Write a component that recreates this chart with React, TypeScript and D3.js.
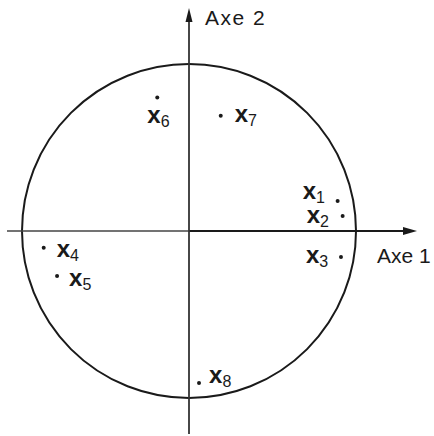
import React from "react";
import * as d3 from "d3";

// Variables projected on the correlation circle (first factorial plane)
const names = ["1", "2", "3", "4", "5", "6", "7", "8"];
const axe1 = [0.89, 0.92, 0.91, -0.87, -0.79, -0.19, 0.19, 0.06];
const axe2 = [0.18, 0.09, -0.156, -0.1, -0.27, 0.8, 0.69, -0.91];
const axisTitles = ["Axe 1", "Axe 2"];

// label placement relative to each point (text start, baseline)
const labelOffsets: [number, number][] = [
  [-35, -2],
  [-36, 7],
  [-35, 6],
  [13, 9],
  [12, 10],
  [-10, 26],
  [14, 6],
  [10, 0],
];

const W = 434;
const H = 436;
const cx = 189;
const cy = 231;
const R = 167;

export default function App() {
  const x = d3.scaleLinear().domain([-1, 1]).range([cx - R, cx + R]);
  const y = d3.scaleLinear().domain([-1, 1]).range([cy + R, cy - R]);

  const font = "'Liberation Sans', Arial, Helvetica, sans-serif";
  const ink = "#1a1a1a";

  const circlePath = d3.path();
  circlePath.arc(x(0), y(0), x(1) - x(0), 0, Math.PI * 2);

  const hLeft = x(-1.09);
  const hTip = 417;
  const vTop = 8;
  const vBottom = 434;

  return (
    <svg
      width={W}
      height={H}
      viewBox={`0 0 ${W} ${H}`}
      style={{ position: "absolute", left: 0, top: 0, background: "#fff" }}
    >
      <rect width={W} height={H} fill="#fff" />
      {/* correlation circle */}
      <path d={circlePath.toString()} fill="none" stroke={ink} strokeWidth={2} />

      {/* horizontal axis */}
      <line x1={hLeft} y1={y(0)} x2={x(0)} y2={y(0)} stroke="#444" strokeWidth={1.4} />
      <line x1={x(0)} y1={y(0)} x2={hTip - 8} y2={y(0)} stroke={ink} strokeWidth={2.2} />
      <path
        d={`M${hTip},${y(0)} L${hTip - 14},${y(0) - 4} L${hTip - 14},${y(0) + 4} Z`}
        fill={ink}
      />

      {/* vertical axis */}
      <line x1={x(0)} y1={vTop + 8} x2={x(0)} y2={vBottom} stroke="#333" strokeWidth={1.8} />
      <path
        d={`M${x(0)},${vTop} L${x(0) - 3.5},${vTop + 14} L${x(0) + 3.5},${vTop + 14} Z`}
        fill={ink}
      />

      {/* axis titles */}
      <text x={377} y={263} fontFamily={font} fontSize={21} fill={ink}>
        {axisTitles[0]}
      </text>
      <text x={205} y={25} fontFamily={font} fontSize={21} letterSpacing={1.5} fill={ink}>
        {axisTitles[1]}
      </text>

      {/* variables */}
      {names.map((n, i) => {
        const px = x(axe1[i]);
        const py = y(axe2[i]);
        const [dx, dy] = labelOffsets[i];
        return (
          <g key={n}>
            <circle cx={px} cy={py} r={2} fill={ink} />
            <text x={px + dx} y={py + dy} fontFamily={font} fill={ink}>
              <tspan fontSize={24} fontWeight="bold">x</tspan>
              <tspan fontSize={16} dy={4}>{n}</tspan>
            </text>
          </g>
        );
      })}
    </svg>
  );
}
